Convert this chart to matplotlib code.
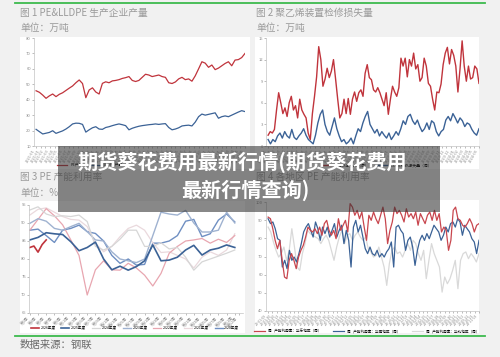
import numpy as np
import pandas as pd
import matplotlib
matplotlib.use("Agg")
import matplotlib.pyplot as plt
from matplotlib.patches import Rectangle
from matplotlib.lines import Line2D

plt.rcParams['font.family'] = ['Noto Sans CJK SC', 'DejaVu Sans']

W, H = 500, 357

# --- chart 1: PE & LLDPE output (万吨)
pe_output = [45.8, 44.8, 43.0, 40.9, 42.5, 43.7, 42.0, 43.5, 44.5, 46.0, 47.5, 48.9, 51.0,
             52.8, 50.5, 41.3, 46.3, 47.7, 45.0, 43.7, 50.6, 51.6, 51.0, 52.2, 52.5, 53.0,
             53.8, 54.3, 55.0, 52.5, 51.8, 52.5, 54.5, 56.5, 56.0, 55.0, 55.5, 56.0, 55.0,
             54.5, 51.0, 50.5, 51.5, 53.5, 54.5, 53.0, 53.5, 52.0, 55.5, 60.0, 64.6, 63.7,
             61.0, 62.5, 59.5, 60.5, 62.0, 63.5, 64.6, 62.0, 65.7, 66.0, 67.3, 70.0]
lldpe_output = [20.8, 19.3, 17.8, 18.3, 18.8, 19.9, 18.2, 19.0, 19.8, 21.0, 22.5, 24.3, 24.8,
                24.7, 24.0, 19.0, 20.5, 21.8, 22.5, 21.0, 20.8, 22.0, 22.5, 23.2, 23.8, 24.3,
                23.8, 23.2, 20.5, 21.5, 22.2, 22.8, 23.2, 23.5, 23.8, 24.0, 24.3, 24.0, 24.3,
                24.5, 22.0, 20.5, 21.0, 21.8, 23.0, 23.3, 23.5, 23.0, 25.5, 29.0, 30.7, 30.0,
                30.5, 31.0, 31.5, 28.0, 29.0, 29.5, 29.0, 30.0, 31.0, 32.0, 32.9, 32.3]

# --- chart 2: maintenance loss (万吨)
pe_loss = [1.5, 2.0, 1.8, 2.3, 5.0, 7.4, 6.0, 4.5, 5.3, 4.1, 6.0, 6.9, 5.0, 5.6, 3.9, 6.5,
           5.0, 4.4, 3.9, 1.8, 0.9, 4.5, 6.9, 9.6, 13.8, 12.0, 8.3, 9.3, 10.8, 9.5, 10.4, 12.0,
           9.3, 6.5, 3.9, 4.5, 6.5, 4.5, 6.6, 4.4, 6.5, 7.5, 6.2, 7.4, 7.8, 6.9, 10.1, 11.3,
           9.5, 9.2, 7.8, 7.5, 8.1, 7.4, 6.5, 5.6, 7.4, 4.4, 6.5, 8.3, 7.5, 6.9, 8.1, 12.2,
           11.1, 12.2, 9.6, 12.0, 11.1, 12.9, 10.7, 11.3, 9.0, 9.5, 12.2, 11.1, 8.7, 8.3, 6.5,
           5.0, 7.5, 7.4, 8.6, 11.3, 12.9, 13.7, 11.4, 13.4, 12.6, 11.1, 7.5, 10.7, 14.6, 11.1,
           9.0, 11.1, 9.3, 9.5, 11.1, 10.7, 8.7]
lldpe_loss = [0.9, 0.3, 0.9, 0.6, 1.4, 1.8, 1.1, 2.0, 1.4, 1.1, 2.3, 1.2, 0.9, 1.4, 1.8, 2.4,
              1.5, 0.9, 0.6, 0.3, 1.5, 3.2, 4.4, 5.0, 3.0, 2.0, 1.5, 2.7, 3.9, 2.4, 1.4, 0.6,
              0.9, 0.3, 0.6, 1.1, 0.3, 1.4, 2.4, 2.0, 3.2, 4.1, 4.8, 3.0, 2.4, 1.8, 2.3, 1.4,
              2.0, 1.5, 1.1, 1.8, 0.9, 1.4, 2.0, 1.5, 2.4, 3.5, 3.0, 4.1, 4.4, 3.5, 3.0, 3.6,
              2.7, 2.0, 2.4, 3.2, 2.3, 3.5, 3.2, 2.0, 1.4, 2.0, 2.3, 3.6, 4.1, 3.5, 4.5, 3.9,
              3.2, 3.9, 3.5, 2.7, 3.2, 3.0, 2.3, 1.8, 1.5, 2.4]

# --- chart 3: PE utilisation by year (%), weeks 1,3,...,51
weeks = list(range(1, 53, 2))
weeks_2026 = [1, 2, 3, 4, 5]
util_2026 = [83.2, 83.6, 81.9, 84.0, 85.3]
util_2025 = [85.3, 86.0, 87.3, 87.0, 86.8, 84.8, 82.3, 83.2, 84.7, 80.0, 77.0, 78.0, 76.9,
             77.9, 79.5, 83.9, 79.5, 79.7, 80.5, 82.5, 83.8, 81.1, 82.5, 83.0, 83.9, 83.2]
util_2024 = [93.6, 94.5, 92.5, 91.8, 92.0, 91.8, 92.2, 90.4, 83.5, 82.5, 83.5, 85.5, 88.0,
             88.0, 83.5, 83.5, 84.5, 82.8, 83.2, 80.5, 76.9, 79.2, 80.0, 80.8, 81.6, 82.5]
util_2023 = [89.9, 91.2, 90.5, 88.5, 88.0, 89.0, 89.9, 87.6, 85.3, 85.0, 82.0, 80.0, 79.5,
             79.0, 80.0, 86.5, 93.0, 92.5, 92.2, 93.5, 90.0, 87.5, 87.5, 88.0, 93.0, 90.0]
util_2022 = [88.0, 91.0, 94.0, 92.0, 89.5, 85.3, 81.0, 70.0, 77.0, 79.5, 77.0, 76.9, 78.8,
             77.5, 75.5, 72.5, 76.0, 81.6, 83.5, 85.0, 85.3, 85.7, 84.4, 85.5, 84.6, 86.5]
util_2021 = [92.2, 93.8, 94.2, 93.0, 91.8, 91.0, 90.8, 89.0, 84.4, 82.0, 83.5, 86.2, 88.5,
             89.4, 88.0, 84.5, 81.8, 82.0, 81.0, 80.0, 77.5, 80.5, 82.0, 81.0, 82.5, 87.0]
util_2020 = [88.0, 88.3, 86.5, 84.6, 88.0, 88.5, 89.4, 87.6, 87.1, 85.0, 81.0, 78.8, 80.0,
             78.3, 78.5, 84.4, 84.4, 85.0, 86.5, 90.5, 91.0, 86.2, 87.0, 90.8, 92.5, 90.3]
week_labels = [f"第{w}周" for w in range(1, 53, 2)] + ["第52周"]
week_ticks = list(range(1, 53, 2)) + [52]

# --- chart 4: regional utilisation (%)
east_util = [91.7, 90.8, 85.3, 78.9, 74.3, 78.9, 67.9, 58.7, 57.8, 67.9, 71.6, 67.9, 63.3, 69.7,
             73.4, 76.1, 80.7, 86.2, 84.4, 83.5, 85.3, 82.6, 86.2, 81.7, 88.1, 89.9, 84.4, 81.7,
             84.4, 79.8, 90.8, 84.4, 87.2, 89.9, 83.5, 99.1, 97.2, 92.7, 95.4, 90.8, 94.5, 86.2,
             78.9, 92.7, 89.9, 94.5, 90.8, 88.1, 92.7, 97.2, 90.8, 77.1, 84.4, 89.0, 97.2, 93.6,
             95.4, 92.7, 89.0, 96.3, 91.7, 93.6, 90.8, 94.5, 87.2, 93.6, 90.8, 88.1, 92.7, 94.5,
             89.9, 95.4, 89.9, 93.6, 83.5, 86.2, 84.4, 73.4, 78.9, 95.4, 97.2, 90.8, 89.9, 87.2,
             86.2, 88.1, 90.8, 88.1, 83.5, 87.2, 88.1]
south_util = [90.8, 88.1, 89.0, 85.3, 79.8, 78.9, 64.2, 67.9, 63.3, 73.4, 67.9, 69.7, 67.0, 71.6,
              77.1, 83.5, 86.2, 88.1, 84.4, 80.7, 89.0, 85.3, 78.9, 86.2, 82.6, 86.2, 80.7, 84.4,
              88.1, 80.7, 84.4, 87.2, 77.1, 84.4, 78.9, 64.2, 86.2, 89.9, 83.5, 87.2, 80.7, 74.3,
              71.6, 75.2, 71.6, 70.6, 73.4, 69.7, 71.6, 69.7, 72.5, 74.3, 78.0, 64.2, 86.2, 87.2,
              84.4, 82.6, 73.4, 78.9, 80.7, 75.2, 65.1, 73.4, 78.9, 81.7, 78.9, 82.6, 79.8, 83.5,
              87.2, 85.3, 83.5, 78.9, 81.7, 86.2, 83.5, 88.1, 89.0, 86.2, 90.8, 89.0, 81.7, 87.2,
              85.3, 83.5, 79.8, 78.0, 71.6, 78.9]
north_util = [86.2, 83.5, 78.0, 73.4, 69.7, 71.6, 75.2, 67.9, 73.4, 85.3, 75.2, 64.2, 62.4, 71.6,
              77.1, 84.4, 82.6, 81.7, 80.7, 79.8, 77.1, 79.8, 81.7, 78.9, 73.4, 67.9, 75.2, 80.7,
              84.4, 77.1, 81.7, 82.6, 78.9, 81.7, 83.5, 80.7, 78.9, 80.7, 74.3, 72.5, 69.7, 70.6,
              75.2, 69.7, 64.2, 54.1, 66.1, 73.4, 75.2, 71.6, 72.5, 69.7, 73.4, 77.1, 73.4, 78.9,
              77.1, 71.6, 67.9, 73.4, 57.8, 67.9, 77.1, 71.6, 67.9, 64.2, 50.4, 58.7, 55.0, 57.8,
              62.4, 67.9, 52.3, 67.9, 71.6, 72.5, 68.8, 71.6, 69.7, 67.0, 71.6]

date_labels_1 = list(pd.date_range('2021-01-03', periods=46, freq='4W').strftime('%Y-%m'))
date_labels_2 = list(pd.date_range('2021-01-03', periods=46, freq='4W').strftime('%Y-%m'))
date_labels_4 = list(pd.date_range('2022-01-07', periods=50, freq='3W').strftime('%y-%m-%d'))

RED = '#c0343c'
BLUE = '#3b6296'
GRAY_TXT = '#9a9a9a'

fig = plt.figure(figsize=(W / 100, H / 100), dpi=100, facecolor='#f1f1f1')


def px_axes(x0, y0, x1, y1):
    return fig.add_axes([x0 / W, 1 - y1 / H, (x1 - x0) / W, (y1 - y0) / H])


def panel(x0, y0, x1, y1):
    fig.add_artist(Rectangle((x0 / W, 1 - y1 / H), (x1 - x0) / W, (y1 - y0) / H,
                             transform=fig.transFigure, facecolor='white',
                             edgecolor='none', zorder=-1))


def ftext(x, y, s, **kw):
    fig.text(x / W, 1 - y / H, s, va='center', **kw)


def style(ax):
    ax.set_facecolor('none')
    for s in ['top', 'right']:
        ax.spines[s].set_visible(False)
    for s in ['left', 'bottom']:
        ax.spines[s].set_color('#c4c4c4')
        ax.spines[s].set_linewidth(0.5)
    ax.tick_params(labelsize=3, colors='#8a8a8a', length=1.2, width=0.4, pad=1)


def xpos(series):
    return np.linspace(0, 1, len(series))


# green rules
for yy in (2.5, 336):
    fig.add_artist(Line2D([15 / W, 485 / W], [1 - yy / H, 1 - yy / H],
                          transform=fig.transFigure, color='#3dba4e', lw=1.3))

# ---------- chart 1
panel(20, 37, 250, 169)
ftext(20, 13, "图 1 PE&LLDPE 生产企业产量", color=GRAY_TXT, fontsize=7)
ftext(20, 28, "单位：万吨", color=GRAY_TXT, fontsize=7)
ax1 = px_axes(34, 38, 245, 146)
style(ax1)
ax1.plot(xpos(pe_output), pe_output, color=RED, lw=0.9, label='PE产量')
ax1.plot(xpos(lldpe_output), lldpe_output, color=BLUE, lw=0.9, label='LLDPE产量')
ax1.set_ylim(10, 80)
ax1.set_yticks(range(10, 81, 10))
ax1.set_xlim(-0.01, 1.0)
ax1.set_xticks(np.linspace(0, 1, len(date_labels_1)))
ax1.set_xticklabels(date_labels_1, rotation=60, ha='right', fontsize=2.8)
ax1.legend(loc='center left', bbox_to_anchor=(55 / W, 1 - 165.5 / H),
           bbox_transform=fig.transFigure, ncol=2, fontsize=2.8, frameon=False,
           handlelength=2.5, columnspacing=2, borderpad=0.1)

# ---------- chart 2
panel(255, 37, 479, 169)
ftext(256, 13, "图 2 聚乙烯装置检修损失量", color=GRAY_TXT, fontsize=7)
ftext(256, 28, "单位：万吨", color=GRAY_TXT, fontsize=7)
ax2 = px_axes(266, 38, 479, 146)
style(ax2)
ax2.plot(xpos(pe_loss), pe_loss, color=RED, lw=1.0, label='PE检修损失量（周）')
ax2.plot(xpos(lldpe_loss), lldpe_loss, color=BLUE, lw=1.0, label='LLDPE检修损失量（周）')
ax2.set_ylim(0, 15)
ax2.set_yticks(range(0, 16, 3))
ax2.set_xlim(-0.01, 1.0)
ax2.set_xticks(np.linspace(0, 1, len(date_labels_2)))
ax2.set_xticklabels(date_labels_2, rotation=60, ha='right', fontsize=2.8)
ax2.legend(loc='center right', bbox_to_anchor=(435 / W, 1 - 165.5 / H),
           bbox_transform=fig.transFigure, ncol=2, fontsize=2.8, frameon=False,
           handlelength=2.5, columnspacing=2, borderpad=0.1)

# ---------- chart 3
panel(20, 201, 245, 333)
ftext(20, 177, "图 3 PE 产能利用率", color=GRAY_TXT, fontsize=7)
ftext(20, 193, "单位：%", color=GRAY_TXT, fontsize=7)
ax3 = px_axes(29, 205, 243, 313)
style(ax3)
year_styles = [
    ('2026年度', weeks_2026, util_2026, '#c0343c', 1.2),
    ('2025年度', weeks, util_2025, '#3b6296', 1.2),
    ('2024年度', weeks, util_2024, '#d6d6d6', 0.9),
    ('2023年度', weeks, util_2023, '#9fb2d0', 1.0),
    ('2022年度', weeks, util_2022, '#e8a6b0', 0.9),
    ('2021年度', weeks, util_2021, '#ead9dd', 0.9),
    ('2020年度', weeks, util_2020, '#6f8fc2', 1.0),
]
for name, wk, vals, col, lw in year_styles[::-1]:
    ax3.plot(wk, vals, color=col, lw=lw, label=name)
ax3.set_ylim(65, 95)
ax3.set_yticks(range(65, 96, 5))
ax3.set_xlim(0.8, 53)
ax3.set_xticks(week_ticks)
ax3.set_xticklabels(week_labels, rotation=45, ha='right', fontsize=2.8)
h, l = ax3.get_legend_handles_labels()
ax3.legend(h[::-1], l[::-1], loc='center', bbox_to_anchor=(135 / W, 1 - 328 / H),
           bbox_transform=fig.transFigure, ncol=7, fontsize=2.6, frameon=False,
           handlelength=2.2, columnspacing=1.6, handletextpad=0.5, borderpad=0.1)

# ---------- chart 4
panel(255, 200, 479, 333)
ftext(256, 177, "图 4 各地区 PE 产能利用率", color=GRAY_TXT, fontsize=7)
ax4 = px_axes(266, 202, 479, 311)
style(ax4)
ax4.plot(xpos(north_util), north_util, color='#d9d9d9', lw=0.9,
         label='周：产能利用率：华北地区（周）')
ax4.plot(xpos(south_util), south_util, color=BLUE, lw=0.9,
         label='周：产能利用率：华南地区（周）')
ax4.plot(xpos(east_util), east_util, color='#c8464e', lw=0.9,
         label='周：产能利用率：华东地区（周）')
ax4.set_ylim(40, 100)
ax4.set_yticks(range(40, 101, 10))
ax4.set_xlim(-0.01, 1.0)
ax4.set_xticks(np.linspace(0, 1, len(date_labels_4)))
ax4.set_xticklabels(date_labels_4, rotation=45, ha='right', fontsize=2.6)
h, l = ax4.get_legend_handles_labels()
ax4.legend(h[::-1], l[::-1], loc='center', bbox_to_anchor=(367 / W, 1 - 331 / H),
           bbox_transform=fig.transFigure, ncol=3, fontsize=2.6, frameon=False,
           handlelength=3, columnspacing=3, borderpad=0.1)

# source note
ftext(20, 345, "数据来源：钢联", color='#6a6a6a', fontsize=7.5)

# overlay banner
fig.add_artist(Rectangle((58 / W, 1 - 212 / H), (440 - 58) / W, (212 - 146) / H,
                         transform=fig.transFigure, facecolor='#333333', alpha=0.58,
                         edgecolor='none', zorder=10))
fig.text(242 / W, 1 - 162 / H, "期货葵花费用最新行情(期货葵花费用", color='white',
         fontsize=14.5, fontweight='bold', ha='center', va='center', zorder=11)
fig.text(245 / W, 1 - 190 / H, "最新行情查询)", color='white',
         fontsize=14.5, fontweight='bold', ha='center', va='center', zorder=11)

fig.savefig('out.png', dpi=100, facecolor=fig.get_facecolor())
